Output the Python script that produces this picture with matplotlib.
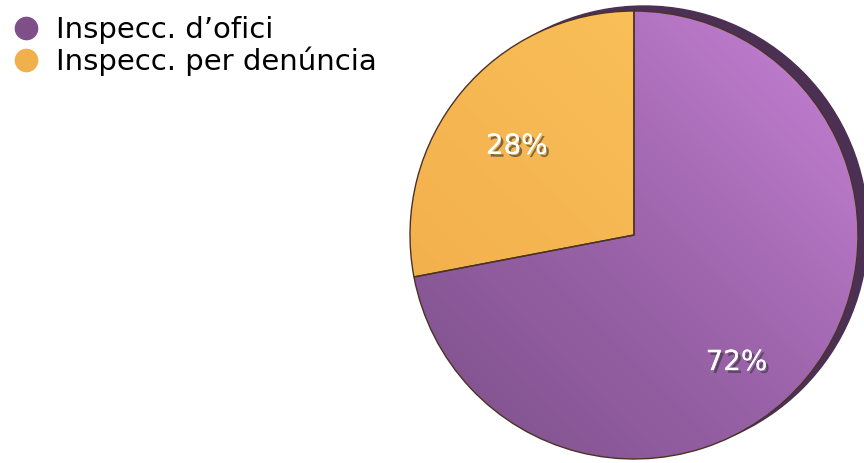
import numpy as np
import matplotlib
matplotlib.use("Agg")
import matplotlib.pyplot as plt
import matplotlib.patheffects as pe
from matplotlib.lines import Line2D
from matplotlib.patches import Circle
from matplotlib.colors import LinearSegmentedColormap

labels = ["Inspecc. d\u2019ofici", "Inspecc. per den\u00fancia"]
values = [72, 28]
colors = ["#9a62a8", "#f6b651"]
legend_colors = ["#7f4f8a", "#f0b04c"]

fig = plt.figure(figsize=(8.64, 4.63), dpi=100)
ax = fig.add_axes([0, 0, 1, 1])

cx, cy, r = 634, 228, 224

# dark shadow behind the pie
ax.add_patch(Circle((cx + 10, cy + 5), r, color="#4b3054", zorder=0))

wedges, texts, autotexts = ax.pie(
    values, colors=colors, startangle=90, counterclock=False,
    center=(cx, cy), radius=r, autopct="%d%%", pctdistance=0.68,
    wedgeprops=dict(edgecolor="#4a3326", linewidth=1.0),
    textprops=dict(color="white", fontsize=20, family="DejaVu Sans"))

# soft gradient on each slice
yy, xx = np.mgrid[0:1:200j, 0:1:200j]
grad = (xx + yy) / 2.0
cmaps = [LinearSegmentedColormap.from_list("p", ["#7c4f88", "#9c64ab", "#c883d6"]),
         LinearSegmentedColormap.from_list("o", ["#f1ac4a", "#f6b853", "#fdc65c"])]
for w, cm in zip(wedges, cmaps):
    im = ax.imshow(grad, cmap=cm, extent=(cx - r, cx + r, cy - r, cy + r),
                   origin="lower", zorder=2, interpolation="bilinear")
    im.set_clip_path(w)
    w.set_facecolor("none")
    w.set_zorder(3)

for t in autotexts:
    t.set_zorder(5)
    t.set_path_effects([pe.withSimplePatchShadow(offset=(2, -2), shadow_rgbFace="#333333", alpha=0.6),
                        pe.Normal()])
# move the 72% label down a little like the original
x, y = autotexts[0].get_position()
autotexts[0].set_position((x - 15, y - 30))
x, y = autotexts[1].get_position()
autotexts[1].set_position((x, y - 8))

handles = [Line2D([], [], marker="o", linestyle="none", markersize=16,
                  markerfacecolor=c, markeredgecolor=c) for c in legend_colors]
ax.legend(handles, labels, loc="upper left", bbox_to_anchor=(-0.014, 1.009),
          frameon=False, fontsize=21, handletextpad=0.45, labelspacing=0.08,
          borderaxespad=0.3, handlelength=1.2)

ax.set_xlim(0, 864)
ax.set_ylim(0, 463)
ax.set_aspect("equal")
ax.axis("off")

plt.savefig("out.png", dpi=100)
